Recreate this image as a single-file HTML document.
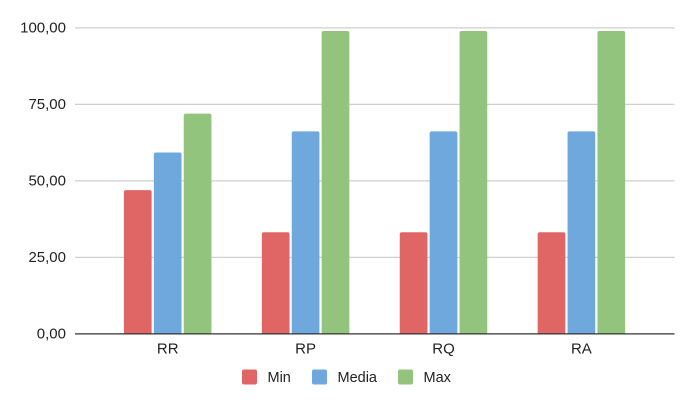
<!DOCTYPE html>
<html>
<head>
<meta charset="utf-8">
<style>
html,body{margin:0;padding:0;background:#fff;}
body{width:693px;height:402px;overflow:hidden;}
svg{display:block;}
text{font-family:"Liberation Sans",sans-serif;fill:#222;font-size:15px;}
</style>
</head>
<body>
<svg id="chart" width="693" height="402" viewBox="0 0 693 402" xmlns="http://www.w3.org/2000/svg"></svg>
<script>
const categories = ['RR', 'RP', 'RQ', 'RA'];
const seriesNames = ['Min', 'Media', 'Max'];
const seriesColors = ['#e06666', '#6fa8dc', '#93c47d'];
const minValues = [47, 33.2, 33.2, 33.2];
const mediaValues = [59.3, 66.2, 66.2, 66.2];
const maxValues = [72, 99, 99, 99];
const tickValues = [0, 25, 50, 75, 100];
const tickLabels = ['0,00', '25,00', '50,00', '75,00', '100,00'];

const NS = 'http://www.w3.org/2000/svg';
const svg = document.getElementById('chart');
const plotLeft = 75, plotRight = 674.5, plotTop = 27.9, plotBottom = 333.9;
const yMax = 100;
const firstCenter = 167.7, bandStep = 137.9, barWidth = 27.7, barStep = 29.9;

function yScale(v) { return plotBottom - (v / yMax) * (plotBottom - plotTop); }
function xCenter(i) { return firstCenter + i * bandStep; }
function make(tag, attrs, parent) {
  const el = document.createElementNS(NS, tag);
  for (const k in attrs) el.setAttribute(k, attrs[k]);
  (parent || svg).appendChild(el);
  return el;
}

// gridlines and y-axis tick labels
tickValues.forEach(function (t, i) {
  if (t !== 0) {
    const g = make('line', {x1: plotLeft, x2: plotRight, y1: yScale(t), y2: yScale(t), stroke: '#cfcfcf', 'stroke-width': 1.2});
    
    
  }
  const lab = make('text', {x: 66, y: yScale(t) + 4.4, 'text-anchor': 'end'});
  lab.textContent = tickLabels[i];
  
  
});

// bars
const allSeries = [minValues, mediaValues, maxValues];
allSeries.forEach(function (vals, s) {
  vals.forEach(function (v, i) {
    const x = xCenter(i) + (s - 1) * barStep - barWidth / 2;
    const y = yScale(v);
    const r = make('path', {
      d: 'M' + x + ' ' + plotBottom + 'V' + (y + 2) + 'Q' + x + ' ' + y + ' ' + (x + 2) + ' ' + y +
         'H' + (x + barWidth - 2) + 'Q' + (x + barWidth) + ' ' + y + ' ' + (x + barWidth) + ' ' + (y + 2) +
         'V' + plotBottom + 'Z',
      fill: seriesColors[s]
    });
    
    
  });
});

// x axis baseline
const axis = make('line', {x1: plotLeft, x2: plotRight, y1: plotBottom, y2: plotBottom, stroke: '#333', 'stroke-width': 1.2});



// category labels
categories.forEach(function (c, i) {
  const t = make('text', {x: xCenter(i), y: 353.3, 'text-anchor': 'middle'});
  t.textContent = c;
  
  
});

// legend
const legendSwatchX = [242, 312, 398];
seriesNames.forEach(function (n, s) {
  const g = make('g', {});
  
  
  const sw = make('rect', {x: legendSwatchX[s], y: 369.5, width: 15, height: 15, rx: 2, fill: seriesColors[s]}, g);
  
  
  const t = make('text', {x: legendSwatchX[s] + 25.5, y: 382, style: 'font-size:14.5px'}, g);
  t.textContent = n;
  
  
});
</script>
</body>
</html>
